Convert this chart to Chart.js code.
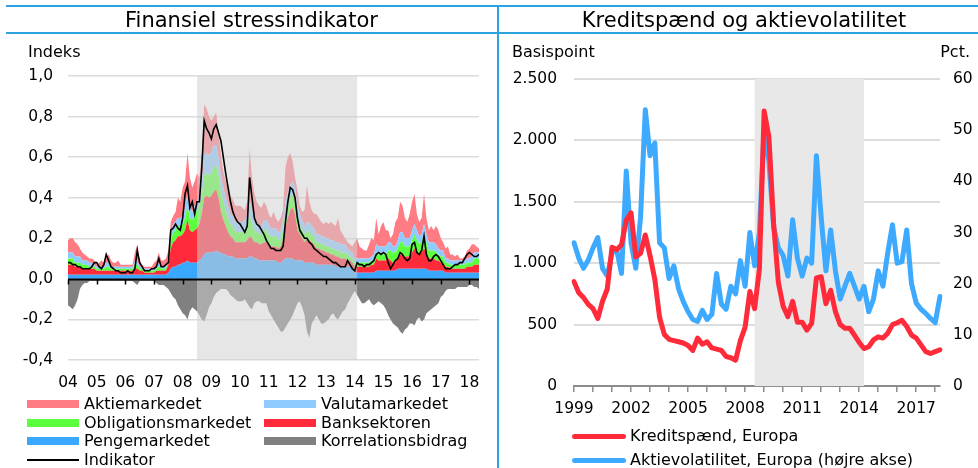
<!DOCTYPE html>
<html lang="da">
<head>
<meta charset="utf-8">
<script src="https://cdn.jsdelivr.net/npm/chart.js@4/dist/chart.umd.min.js"></script>
<style>
  body { margin: 0; background: #fff; font-family: 'DejaVu Sans', sans-serif; color: #000; }
  #page { position: relative; width: 978px; height: 468px; overflow: hidden; }
  canvas { position: absolute; top: 0; }
  .rule { position: absolute; background: #2aa3de; }
  .txt { position: absolute; white-space: nowrap; }
  .title { font-size: 21px; line-height: 28px; top: 6px; text-align: center; }
  .unit { font-size: 16px; line-height: 20px; top: 42px; }
  .leg { position: absolute; font-size: 16px; line-height: 19px; white-space: nowrap; }
  .sw { position: absolute; width: 52px; height: 8px; }
</style>
</head>
<body>
<div id="page">
  <canvas id="left" width="497" height="468" style="left:0"></canvas>
  <canvas id="right" width="478" height="468" style="left:500px"></canvas>

  <div class="rule" style="left:6px; top:5px; width:972px; height:2px"></div>
  <div class="rule" style="left:6px; top:32px; width:972px; height:2px"></div>
  <div class="rule" style="left:497px; top:5px; width:2px; height:463px"></div>

  <div class="txt title" style="left:6px; width:491px">Finansiel stressindikator</div>
  <div class="txt title" style="left:494px; width:500px">Kreditspænd og aktievolatilitet</div>
  <div class="txt unit" style="left:28px">Indeks</div>
  <div class="txt unit" style="left:512px">Basispoint</div>
  <div class="txt unit" style="right:8px">Pct.</div>

  <div id="legLeft"></div>
  <div id="legRight"></div>
</div>

<script>
// Finansiel stressindikator, monthly, Jan 2004 - May 2018 (index points x 100)
const years = [2004, 2005, 2006, 2007, 2008, 2009, 2010, 2011, 2012, 2013, 2014, 2015, 2016, 2017, 2018];
const lastMonth2018 = 5;

const penge = [
  2,2,2,2,2,2,2,2,2,2,2,2,
  2,2,2,2,2,2,2,2,2,2,2,2,
  2,2,2,2,2,2,2,2,2,2,2,2,
  2,2,2,2,2,2,3,5,6,6,7,7,
  8,8,9,8,8,8,8,9,10,12,13,13,
  13,13,14,13,13,12,12,11,11,11,10,10,
  10,10,10,10,11,11,10,10,9,9,9,9,
  9,9,9,9,8,8,9,10,10,10,10,9,
  9,9,9,8,8,8,8,8,7,7,7,7,
  7,7,7,7,6,6,6,6,6,6,6,5,
  3,3,3,3,3,3,3,3,3,4,4,4,
  4,4,4,4,4,4,5,5,5,5,5,5,
  5,5,5,5,5,5,5,4,4,4,4,4,
  4,4,3,3,3,3,3,3,3,3,3,3,
  3,3,3,3,3
];
const bank = [
  5,5,5,4,4,4,3,3,3,3,3,3,
  2,2,2,2,2,2,2,2,2,2,2,2,
  2,2,2,2,3,3,2,2,1,1,1,1,
  1,2,2,2,2,2,4,10,12,13,14,14,
  14,16,20,16,15,16,17,18,22,28,28,27,
  28,30,30,27,20,17,14,12,10,9,8,8,
  8,8,8,9,10,9,8,8,8,8,9,9,
  8,7,7,7,7,8,10,16,20,24,25,23,
  15,13,11,10,12,11,10,9,8,8,7,7,
  6,6,5,5,5,5,4,4,4,3,3,3,
  3,3,3,3,3,3,3,4,4,6,5,5,
  5,5,6,5,4,4,5,7,7,6,6,6,
  8,10,8,7,8,10,8,6,6,6,5,5,
  4,4,3,3,2,2,2,2,2,2,2,3,
  3,3,4,4,4
];
const oblig = [
  3,3,3,2,2,2,2,2,2,1,1,1,
  1,1,1,1,2,2,1,1,1,1,1,1,
  1,1,1,1,2,2,1,1,1,1,1,1,
  1,1,2,1,1,1,2,4,5,5,5,5,
  5,6,7,6,6,8,9,9,9,11,11,11,
  11,12,12,11,10,9,8,7,6,6,5,5,
  5,5,6,7,10,8,6,5,5,5,6,6,
  5,5,5,5,4,4,5,6,7,6,7,7,
  6,5,4,4,4,4,4,4,3,3,3,3,
  3,3,3,3,3,3,3,3,3,3,2,2,
  2,2,2,2,2,2,2,2,2,3,3,3,
  3,3,4,5,5,5,5,6,6,5,5,5,
  6,7,6,5,5,7,5,4,4,4,4,3,
  3,3,2,2,2,2,2,2,2,2,2,2,
  2,2,3,3,3
];
const valuta = [
  3,3,3,3,3,3,2,2,2,2,2,1,
  1,1,1,1,2,2,1,1,1,1,1,1,
  1,1,1,1,2,2,1,1,1,1,1,1,
  1,1,2,1,1,1,2,3,4,4,4,4,
  4,5,6,5,4,4,4,5,7,10,10,10,
  10,11,10,9,8,7,6,6,5,5,5,5,
  5,5,5,5,7,6,5,5,4,4,5,5,
  5,4,4,4,4,4,5,6,6,6,6,6,
  6,5,5,4,4,5,4,4,4,4,4,4,
  4,4,4,4,4,4,4,4,4,3,3,3,
  2,2,2,2,2,2,2,2,3,4,4,4,
  4,4,4,4,3,3,4,5,5,4,4,4,
  5,5,5,4,4,5,4,4,4,4,4,3,
  3,3,2,2,2,2,2,2,2,2,2,2,
  2,3,3,3,3
];
const aktie = [
  6,7,7,7,6,4,4,3,2,2,2,2,
  1,2,3,2,2,4,3,2,2,3,1,1,
  1,1,1,1,4,8,3,1,1,1,1,1,
  3,3,5,3,3,4,3,6,4,5,10,8,
  14,13,20,15,12,12,14,9,14,25,22,19,
  16,14,16,12,10,8,8,9,9,8,8,8,
  8,7,5,7,26,16,13,10,10,9,9,7,
  5,5,8,5,5,6,5,17,17,16,10,5,
  8,4,4,8,18,10,8,7,10,8,7,6,
  8,7,9,8,8,12,7,5,3,3,3,3,
  8,10,6,5,4,4,7,9,7,13,6,10,
  12,8,6,2,6,12,11,15,13,10,8,12,
  14,15,8,7,8,15,8,6,8,6,9,9,
  6,4,5,6,3,3,2,3,1,1,2,4,
  5,6,4,3,2
];
const korrel = [
  -13,-14,-15,-13,-10,-5,-3,-2,-2,-1,-1,-1,
  -1,-1,-1,-1,-1,-1,-1,-1,-1,-1,-1,-1,
  -1,-1,-1,-1,-2,-3,-1,-1,-1,-1,-1,-1,
  -1,-2,-3,-3,-3,-4,-5,-7,-9,-10,-13,-15,
  -17,-18,-20,-16,-14,-15,-16,-18,-20,-21,-18,-14,
  -12,-9,-7,-6,-5,-5,-5,-6,-8,-9,-10,-11,
  -11,-11,-10,-12,-14,-15,-12,-11,-11,-12,-12,-12,
  -16,-18,-20,-22,-24,-26,-26,-24,-22,-20,-18,-15,
  -12,-11,-14,-18,-26,-29,-22,-20,-18,-20,-22,-22,
  -21,-20,-18,-17,-19,-20,-18,-16,-15,-12,-10,-8,
  -6,-8,-10,-12,-12,-11,-10,-12,-13,-12,-11,-12,
  -13,-15,-18,-20,-22,-23,-24,-26,-27,-25,-24,-22,
  -22,-23,-20,-19,-21,-20,-17,-16,-15,-14,-13,-12,
  -9,-8,-6,-5,-5,-5,-5,-4,-4,-4,-4,-4,
  -3,-3,-4,-4,-5
];
const indikator = [
  8,8,7,7,6,6,5,5,5,5,6,8,
  8,6,5,7,12,9,6,5,4,4,3,3,
  3,4,3,3,5,14,8,6,4,4,4,5,
  5,6,10,6,6,7,8,24,25,27,25,24,
  30,42,46,35,38,32,38,38,55,78,74,72,
  69,74,76,72,68,60,52,45,38,33,30,28,
  27,25,23,26,50,40,30,27,26,24,22,19,
  17,15,15,14,14,14,16,28,38,45,44,40,
  30,24,22,20,20,18,17,15,14,13,12,11,
  11,10,9,8,8,7,6,6,6,9,7,5,
  4,8,7,7,6,7,7,8,9,12,13,12,
  13,12,8,5,7,9,10,13,12,10,9,10,
  17,18,13,12,14,21,12,9,9,11,12,11,
  9,7,5,5,5,6,7,7,8,8,10,12,
  13,12,11,11,12
];
const leftTicks = [-40, -20, 0, 20, 40, 60, 80, 100];
const leftShade = ['2008-07', '2014-02'];

// Kreditspænd og aktievolatilitet, quarterly, 1999K1 - 2018K2
const qYears = [1999, 2000, 2001, 2002, 2003, 2004, 2005, 2006, 2007, 2008, 2009, 2010, 2011, 2012, 2013, 2014, 2015, 2016, 2017, 2018];
const spread = [
  850,760,720,665, 630,550,690,790,
  1130,1110,1150,1350, 1410,1050,1080,1230,
  1060,870,560,420, 380,370,360,350,
  330,290,390,340, 360,310,300,290,
  240,230,210,370, 480,770,630,950,
  2240,2030,1320,840, 650,565,690,520,
  520,455,510,880, 890,670,780,605,
  500,470,470,415, 355,305,320,375,
  400,390,430,500, 515,535,485,415,
  390,335,280,265, 280,295
];
const vol = [
  28,25,23,24.6, 27,29,23,21.5,
  26,26.5,22,42, 28,23,33,54,
  45,47.5,28,27, 21,23.5,19,16.5,
  14.5,13,12.6,14.8, 13,14,22,16,
  15,19.5,18,24.5, 19.5,30,23.5,30,
  50,44,31,27, 25.5,21.5,32.5,25,
  21.5,25,24,45, 33,22.5,30.5,22.5,
  17,19.5,22,19.5, 17,19.5,14.5,17,
  22.5,19.5,26,31.5, 24,24.3,30.5,20,
  16.2,15,14.2,13.2, 12.4,17.5
];
const spreadTicks = [0, 500, 1000, 1500, 2000, 2500];
const volTicks = [0, 10, 20, 30, 40, 50, 60];
const rightShade = ['2008K3', '2014K2'];

const months = [];
years.forEach(y => {
  for (let m = 1; m <= 12; m++) {
    if (y === 2018 && m > lastMonth2018) break;
    months.push(y + '-' + String(m).padStart(2, '0'));
  }
});
const quarters = [];
qYears.forEach(y => {
  for (let q = 1; q <= 4; q++) {
    if (y === 2018 && q > 2) break;
    quarters.push(y + 'K' + q);
  }
});

Chart.defaults.font.family = "'DejaVu Sans', sans-serif";
Chart.defaults.font.size = 15.5;
Chart.defaults.color = '#000';

const colors = {
  aktie: '#ff7c84',
  valuta: '#8fcbff',
  oblig: '#5bff3e',
  bank: '#ff2b3b',
  penge: '#3aa8ff',
  korrel: '#808080',
  indikator: '#000000',
  spread: '#ff2b3b',
  vol: '#3daaff'
};

function area(label, data, color, fill) {
  return {
    label, data, fill, stack: 'a',
    backgroundColor: color, borderColor: color, borderWidth: 0,
    pointRadius: 0, tension: 0
  };
}

// grey period box, put over the areas but under the black line
const leftShadePlugin = {
  id: 'leftShade',
  beforeDatasetDraw(chart, args) {
    if (args.index !== 6) return;
    const { ctx, chartArea, scales: { x } } = chart;
    const x1 = x.getPixelForValue(months.indexOf(leftShade[0]));
    const x2 = x.getPixelForValue(months.indexOf(leftShade[1]));
    ctx.save();
    ctx.fillStyle = 'rgba(208, 208, 208, 0.53)';
    ctx.fillRect(x1, chartArea.top, x2 - x1, chartArea.bottom - chartArea.top);
    ctx.restore();
  }
};

// black zero line with a small tick at every January
const zeroAxisPlugin = {
  id: 'zeroAxis',
  afterDatasetsDraw(chart) {
    const { ctx, chartArea, scales: { x, y } } = chart;
    const y0 = Math.round(y.getPixelForValue(0)) + 0.5;
    ctx.save();
    ctx.strokeStyle = '#000';
    ctx.lineWidth = 1.8;
    ctx.beginPath();
    ctx.moveTo(chartArea.left, y0);
    ctx.lineTo(chartArea.right, y0);
    ctx.stroke();
    ctx.lineWidth = 1.5;
    months.forEach((m, i) => {
      if (!m.endsWith('-01')) return;
      const px = Math.round(x.getPixelForValue(i)) + 0.5;
      ctx.beginPath();
      ctx.moveTo(px, y0);
      ctx.lineTo(px, y0 + 5);
      ctx.stroke();
    });
    ctx.restore();
  }
};

new Chart(document.getElementById('left'), {
  type: 'line',
  data: {
    labels: months,
    datasets: [
      area('Pengemarkedet', penge, colors.penge, 'origin'),
      area('Banksektoren', bank, colors.bank, '-1'),
      area('Obligationsmarkedet', oblig, colors.oblig, '-1'),
      area('Valutamarkedet', valuta, colors.valuta, '-1'),
      area('Aktiemarkedet', aktie, colors.aktie, '-1'),
      area('Korrelationsbidrag', korrel, colors.korrel, 'origin'),
      {
        label: 'Indikator', data: indikator, stack: 'ind', order: -1,
        borderColor: colors.indikator, borderWidth: 1.6, fill: false,
        pointRadius: 0, tension: 0
      }
    ]
  },
  options: {
    responsive: false,
    animation: false,
    layout: { padding: { top: 76, right: 18, bottom: 0, left: 0 } },
    plugins: { legend: { display: false }, tooltip: { enabled: false } },
    scales: {
      x: {
        grid: { display: false, drawTicks: false },
        border: { display: false },
        ticks: {
          autoSkip: false, maxRotation: 0, minRotation: 0, padding: 14,
          callback: (v, i) => months[i].endsWith('-01') ? months[i].slice(2, 4) : ''
        },
        afterFit: s => { s.height = 108; }
      },
      y: {
        stacked: true,
        min: -40, max: 100,
        afterBuildTicks: s => { s.ticks = leftTicks.map(v => ({ value: v })); },
        ticks: { padding: 15, callback: v => (v / 100).toFixed(1).replace('.', ',') },
        grid: { color: '#dcdcdc', lineWidth: 1.5, drawTicks: false },
        border: { display: false },
        afterFit: s => { s.width = 68; }
      }
    }
  },
  plugins: [leftShadePlugin, zeroAxisPlugin]
});

const thousands = v => v >= 1000 ? Math.floor(v / 1000) + '.' + String(v % 1000).padStart(3, '0') : String(v);
const quarterTick = ctx => ctx.index % 4 === 0 ? '#8c8c8c' : 'rgba(0,0,0,0)';

const rightShadePlugin = {
  id: 'rightShade',
  beforeDatasetsDraw(chart) {
    const { ctx, chartArea, scales: { x } } = chart;
    const x1 = x.getPixelForValue(quarters.indexOf(rightShade[0]));
    const x2 = x.getPixelForValue(quarters.indexOf(rightShade[1]));
    ctx.save();
    ctx.fillStyle = '#e8e8e8';
    ctx.fillRect(x1, chartArea.top, x2 - x1, chartArea.bottom - chartArea.top);
    ctx.restore();
  }
};

new Chart(document.getElementById('right'), {
  type: 'line',
  data: {
    labels: quarters,
    datasets: [
      {
        label: 'Kreditspænd, Europa', data: spread, yAxisID: 'y',
        borderColor: colors.spread, borderWidth: 5, pointRadius: 0, tension: 0,
        borderCapStyle: 'round', borderJoinStyle: 'round', fill: false
      },
      {
        label: 'Aktievolatilitet, Europa (højre akse)', data: vol, yAxisID: 'y1',
        borderColor: colors.vol, borderWidth: 5, pointRadius: 0, tension: 0,
        borderCapStyle: 'round', borderJoinStyle: 'round', fill: false
      }
    ]
  },
  options: {
    responsive: false,
    animation: false,
    layout: { padding: { top: 79, right: 0, bottom: 0, left: 0 } },
    plugins: { legend: { display: false }, tooltip: { enabled: false } },
    scales: {
      x: {
        grid: { drawOnChartArea: false, tickLength: 6, lineWidth: 1.5, color: quarterTick, tickColor: quarterTick },
        border: { color: '#8c8c8c', width: 2 },
        ticks: {
          autoSkip: false, maxRotation: 0, minRotation: 0, padding: 8,
          callback: (v, i) => i % 12 === 0 ? quarters[i].slice(0, 4) : ''
        },
        afterFit: s => { s.height = 82; }
      },
      y: {
        position: 'left',
        min: 0, max: 2500,
        afterBuildTicks: s => { s.ticks = spreadTicks.map(v => ({ value: v })); },
        ticks: { padding: 17, callback: thousands },
        grid: { color: '#dcdcdc', lineWidth: 2, drawTicks: false },
        border: { display: false },
        afterFit: s => { s.width = 74; }
      },
      y1: {
        position: 'right',
        min: 0, max: 60,
        afterBuildTicks: s => { s.ticks = volTicks.map(v => ({ value: v })); },
        ticks: { padding: 13 },
        grid: { display: false, drawTicks: false },
        border: { display: false },
        afterFit: s => { s.width = 38; }
      }
    }
  },
  plugins: [rightShadePlugin]
});

// legends
const legLeftItems = [
  { text: 'Aktiemarkedet', color: colors.aktie, col: 0, row: 0 },
  { text: 'Valutamarkedet', color: colors.valuta, col: 1, row: 0 },
  { text: 'Obligationsmarkedet', color: colors.oblig, col: 0, row: 1 },
  { text: 'Banksektoren', color: colors.bank, col: 1, row: 1 },
  { text: 'Pengemarkedet', color: colors.penge, col: 0, row: 2 },
  { text: 'Korrelationsbidrag', color: colors.korrel, col: 1, row: 2 },
  { text: 'Indikator', color: colors.indikator, col: 0, row: 3, line: true }
];
const legLeftRows = [404, 423, 441, 460];
const legLeftCols = [27, 264];
const legLeft = document.getElementById('legLeft');
legLeftItems.forEach(it => {
  const x = legLeftCols[it.col], y = legLeftRows[it.row];
  const sw = document.createElement('div');
  sw.className = 'sw';
  sw.style.left = x + 'px';
  sw.style.background = it.color;
  if (it.line) { sw.style.height = '1.5px'; sw.style.top = (y - 0.75) + 'px'; }
  else sw.style.top = (y - 4) + 'px';
  legLeft.appendChild(sw);
  const t = document.createElement('div');
  t.className = 'leg';
  t.textContent = it.text;
  t.style.left = (x + 57) + 'px';
  t.style.top = (y - 10) + 'px';
  legLeft.appendChild(t);
});

const legRightItems = [
  { text: 'Kreditspænd, Europa', color: colors.spread },
  { text: 'Aktievolatilitet, Europa (højre akse)', color: colors.vol }
];
const legRightRows = [436, 460];
const legRight = document.getElementById('legRight');
legRightItems.forEach((it, i) => {
  const y = legRightRows[i];
  const sw = document.createElement('div');
  sw.className = 'sw';
  sw.style.left = '572px';
  sw.style.width = '54px';
  sw.style.height = '5px';
  sw.style.borderRadius = '3px';
  sw.style.top = (y - 2.5) + 'px';
  sw.style.background = it.color;
  legRight.appendChild(sw);
  const t = document.createElement('div');
  t.className = 'leg';
  t.textContent = it.text;
  t.style.left = '630px';
  t.style.top = (y - 10) + 'px';
  legRight.appendChild(t);
});
</script>
</body>
</html>
